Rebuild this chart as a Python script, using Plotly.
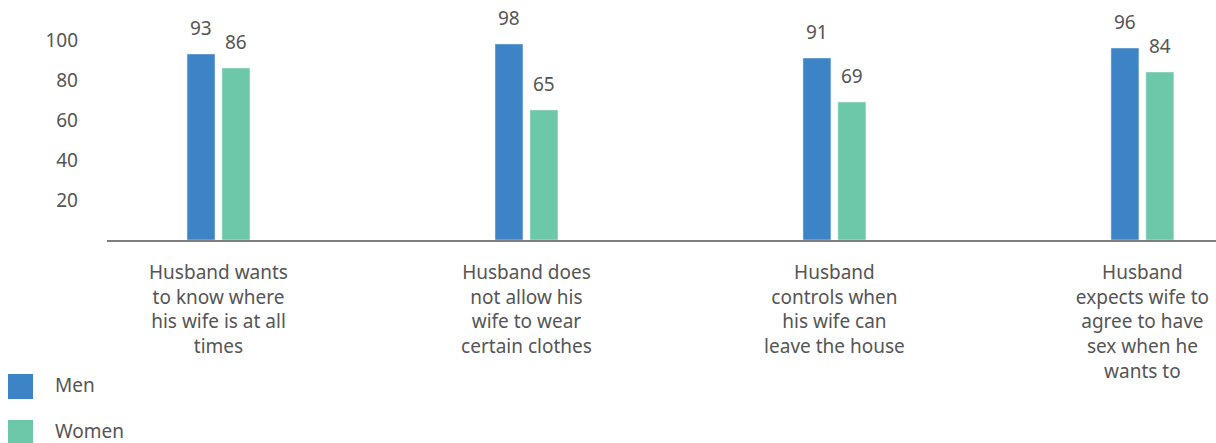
import plotly.graph_objects as go

categories = [
    'Husband wants<br>to know where<br>his wife is at all<br>times',
    'Husband does<br>not allow his<br>wife to wear<br>certain clothes',
    'Husband<br>controls when<br>his wife can<br>leave the house',
    'Husband<br>expects wife to<br>agree to have<br>sex when he<br>wants to',
]
men = [93, 98, 91, 96]
women = [86, 65, 69, 84]
series_names = ['Men', 'Women']
colors = ['#3d84c6', '#6dc8aa']
yticks = [20, 40, 60, 80, 100]

txt_color = '#555555'
font_family = 'Noto Sans, sans-serif'
fsize = 19

fig = go.Figure()
for name, vals, col in zip(series_names, [men, women], colors):
    fig.add_trace(go.Bar(x=categories, y=vals, name=name, marker_color=col,
                         showlegend=False))

# value labels above the bars
for i, (name, vals) in enumerate(zip(series_names, [men, women])):
    shift = -17.5 if i == 0 else 17.5
    for cat, v in zip(categories, vals):
        fig.add_annotation(x=cat, y=v, text=str(v), showarrow=False,
                           xshift=shift, yshift=26, yanchor='middle',
                           font=dict(size=fsize, color=txt_color, family=font_family))

# manual legend, big squares stacked bottom-left
W, L, H = 1216, 107, 240
for k, (name, col) in enumerate(zip(series_names, colors)):
    top = 374 + 46 * k
    fig.add_shape(type='rect', xref='paper', yref='paper',
                  x0=(8 - L) / (W - L), x1=(33 - L) / (W - L),
                  y0=(H - top) / H, y1=(H - top - 25) / H,
                  fillcolor=col, line_width=0)
    fig.add_annotation(xref='paper', yref='paper',
                       x=(53 - L) / (W - L), y=(H - top - 11) / H,
                       text=name, showarrow=False, xanchor='left', yanchor='middle',
                       font=dict(size=fsize, color=txt_color, family=font_family))

fig.update_layout(
    width=1216, height=443,
    margin=dict(l=L, r=0, t=0, b=443 - H),
    plot_bgcolor='white', paper_bgcolor='white',
    barmode='group', bargap=0.773, bargroupgap=0.2,
    font=dict(family=font_family, size=fsize, color=txt_color),
)
fig.update_xaxes(range=[-0.362, 3.239], showline=True, linecolor='#7f7f7f', linewidth=2,
                 showgrid=False, ticks='', tickangle=0, ticklabelstandoff=14,
                 tickfont=dict(size=fsize, color=txt_color))
fig.update_yaxes(range=[0, 120], tickvals=yticks, showgrid=False, zeroline=False,
                 showline=False, ticks='', ticklabelstandoff=28,
                 tickfont=dict(size=fsize, color=txt_color))

fig.write_html("out.html", config={'displayModeBar': False},
               post_script="document.body.style.margin='0';")
